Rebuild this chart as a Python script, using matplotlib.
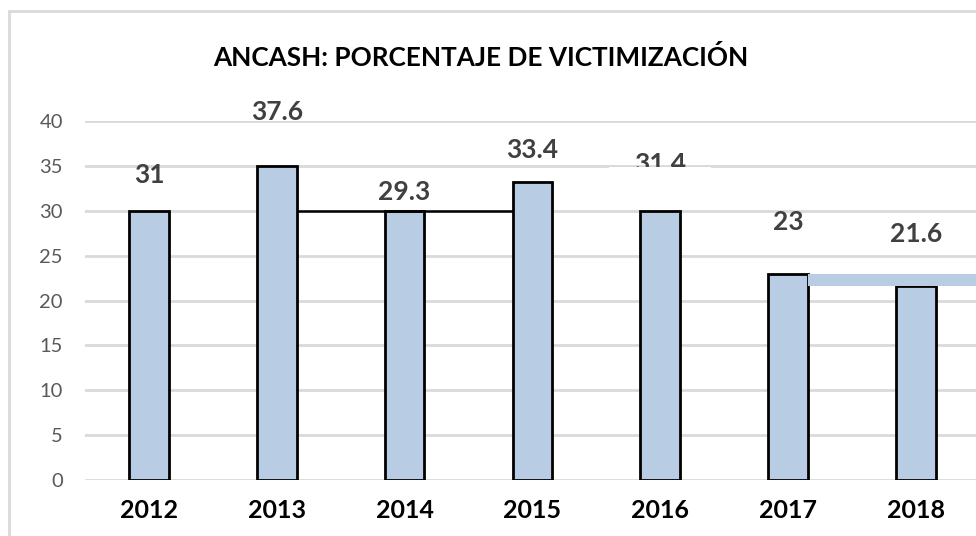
import matplotlib
matplotlib.use('Agg')
import matplotlib.pyplot as plt
from matplotlib.patches import Rectangle

# Chart data
years = ['2012', '2013', '2014', '2015', '2016', '2017', '2018']
bar_heights = [30, 35, 30, 33.2, 30, 23, 21.6]
value_labels = ['31', '37.6', '29.3', '33.4', '31.4', '23', '21.6']
label_values = [31, 37.6, 29.3, 33.4, 31.4, 23, 21.6]
y_ticks = [0, 5, 10, 15, 20, 25, 30, 35, 40]

BAR_COLOR = '#b8cce4'
GRID_COLOR = '#d9d9d9'
W = 0.31

plt.rcParams['font.family'] = ['Lato', 'DejaVu Sans']

fig = plt.figure(figsize=(9.76, 5.36), dpi=100)
# outer chart border (right and bottom run off the canvas)
fig.patches.append(Rectangle((8.5 / 976, -0.1), 1.2, (525.5 / 536) + 0.1,
                             transform=fig.transFigure, fill=False,
                             edgecolor='#d9d9d9', linewidth=2))

ax = fig.add_axes([85 / 976, 56 / 536, 1 - 85 / 976, (480 - 121) / 536])
x = list(range(len(years)))

ax.bar(x, bar_heights, width=W, color=BAR_COLOR, edgecolor='black',
       linewidth=2, zorder=2)

# stray connector segments
ax.hlines(bar_heights[2], x[1] + W / 2, x[3] - W / 2, color='black',
          linewidth=1.8, zorder=3)
ax.fill_between([x[5] + W / 2, 6.6], bar_heights[6], bar_heights[5],
                color=BAR_COLOR, linewidth=0, zorder=2)

offsets = [3.0, 3.4, 2.8, 3.4, 3.8, 5.8, 5.8]
for i, (lab, v) in enumerate(zip(value_labels, label_values)):
    ax.text(x[i], v + offsets[i], lab, ha='center', va='center',
            fontsize=19, fontweight='bold', color='#404040', zorder=3)

# hide the lower part of the 2016 label (it is cut off in the original)
ax.add_patch(Rectangle((x[4] - 0.4, 31.0), 0.8, 3.88, facecolor='white',
                       edgecolor='none', zorder=4))

ax.set_xlim(-0.5, 6.47)
ax.set_ylim(0, 40)
ax.set_yticks(y_ticks)
ax.set_xticks(x)
ax.set_xticklabels(years, fontsize=18, fontweight='bold', color='black')
ax.tick_params(axis='x', length=0, pad=14)
ax.tick_params(axis='y', length=0, pad=16, labelsize=14.5, labelcolor='#595959')
ax.yaxis.grid(True, color=GRID_COLOR, linewidth=2, zorder=0)
ax.set_axisbelow(True)
for s in ax.spines.values():
    s.set_visible(False)

fig.text(481 / 976, 1 - 58 / 536, 'ANCASH: PORCENTAJE DE VICTIMIZACIÓN',
         ha='center', va='center', fontsize=18.8, fontweight='bold', color='black')

fig.savefig('out.png', dpi=100)
